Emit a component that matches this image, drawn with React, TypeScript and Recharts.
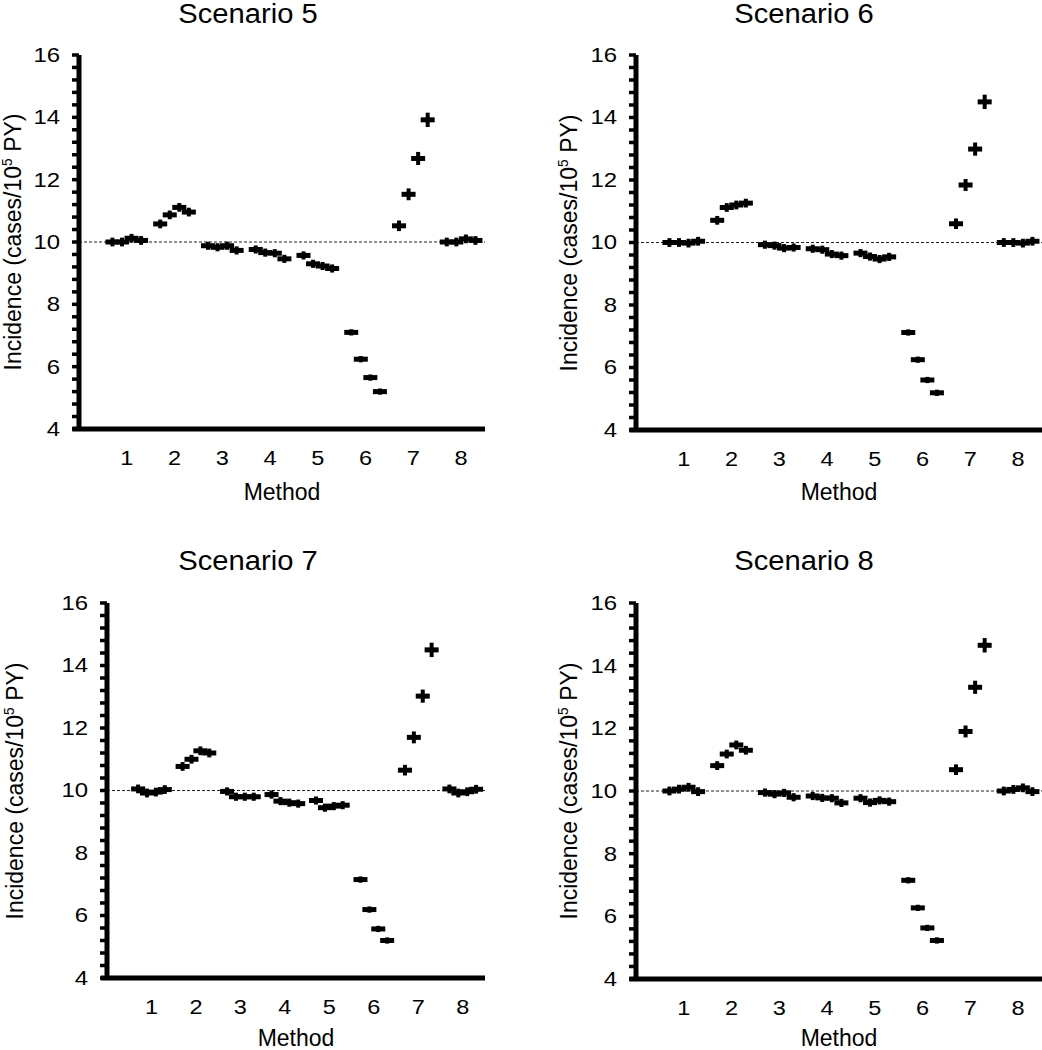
import React from "react";
import {
  ScatterChart,
  Scatter,
  XAxis,
  YAxis,
  ErrorBar,
  ReferenceLine,
} from "recharts";

// four estimates per method
const methods = [1, 2, 3, 4, 5, 6, 7, 8];
const pointOffsets = [-0.3, -0.1, 0.1, 0.3];

const scenario5 = [
  [10.0, 10.0, 10.12, 10.05],
  [10.58, 10.87, 11.11, 10.96],
  [9.88, 9.83, 9.88, 9.73],
  [9.76, 9.66, 9.64, 9.46],
  [9.57, 9.3, 9.23, 9.15],
  [7.1, 6.24, 5.65, 5.2],
  [10.52, 11.53, 12.68, 13.92],
  [10.0, 10.0, 10.1, 10.05],
];
const scenario6 = [
  [10.0, 10.0, 9.98, 10.04],
  [10.71, 11.12, 11.2, 11.26],
  [9.93, 9.9, 9.82, 9.84],
  [9.8, 9.77, 9.63, 9.58],
  [9.66, 9.55, 9.47, 9.54],
  [7.12, 6.25, 5.6, 5.19],
  [10.6, 11.84, 12.99, 14.5],
  [10.0, 10.0, 9.98, 10.04],
];
const scenario7 = [
  [10.05, 9.92, 9.95, 10.03],
  [10.77, 11.0, 11.27, 11.2],
  [9.97, 9.8, 9.8, 9.8],
  [9.87, 9.66, 9.61, 9.58],
  [9.68, 9.45, 9.5, 9.53],
  [7.15, 6.19, 5.57, 5.2],
  [10.65, 11.7, 13.02, 14.5],
  [10.05, 9.92, 9.96, 10.04],
];
const scenario8 = [
  [10.0, 10.06, 10.12, 9.98],
  [10.81, 11.18, 11.47, 11.3],
  [9.95, 9.9, 9.94, 9.8],
  [9.84, 9.78, 9.77, 9.62],
  [9.77, 9.63, 9.7, 9.66],
  [7.15, 6.27, 5.63, 5.23],
  [10.68, 11.9, 13.31, 14.65],
  [10.0, 10.05, 10.1, 9.98],
];

// half-width of the vertical interval around each estimate
const ciHalfWidth = [
  [0.14, 0.14, 0.14, 0.14],
  [0.14, 0.14, 0.14, 0.14],
  [0.13, 0.13, 0.13, 0.13],
  [0.13, 0.13, 0.13, 0.13],
  [0.13, 0.13, 0.13, 0.13],
  [0.1, 0.1, 0.1, 0.1],
  [0.17, 0.19, 0.21, 0.23],
  [0.14, 0.14, 0.14, 0.14],
];

const yMajorTicks = [4, 6, 8, 10, 12, 14, 16];
const yMinorStep = 0.4;
const yTicks = Array.from({ length: 31 }, (_, i) =>
  Math.round((4 + i * yMinorStep) * 10) / 10,
);
const referenceValue = 10;

const FONT = '"Liberation Sans", Arial, sans-serif';

function toPoints(values: number[][]) {
  return values.flatMap((row, m) =>
    row.map((v, k) => ({
      x: methods[m] + pointOffsets[k],
      y: v,
      err: ciHalfWidth[m][k],
    })),
  );
}

const CrossMark = (props: any) => {
  const { cx, cy } = props;
  if (cx == null || cy == null) return null;
  return <rect x={cx - 7} y={cy - 2.5} width={14} height={5} fill="#000" />;
};

const YTick = (props: any) => {
  const { x, y, payload } = props;
  const v = payload.value;
  if (!yMajorTicks.includes(v)) return null;
  return (
    <text
      transform={`translate(${x},${y}) scale(1.14,1)`}
      textAnchor="end"
      dominantBaseline="central"
      fontSize={21}
      fontFamily={FONT}
      fill="#000"
    >
      {v}
    </text>
  );
};

const XTick = (props: any) => {
  const { x, y, payload } = props;
  return (
    <text
      transform={`translate(${x},${y}) scale(1.12,1)`}
      dy="0.71em"
      textAnchor="middle"
      fontSize={21}
      fontFamily={FONT}
      fill="#000"
    >
      {payload.value}
    </text>
  );
};

interface PanelProps {
  title: string;
  values: number[][];
  left: number;
  axisX: number;
  plotRight: number;
  plotTop: number;
  plotBottom: number;
  titleX: number;
  titleTop: number;
  yLabelX: number;
  methodTop: number;
}

function Panel({
  title,
  values,
  left,
  axisX,
  plotRight,
  plotTop,
  plotBottom,
  titleX,
  titleTop,
  yLabelX,
  methodTop,
}: PanelProps) {
  const chartTop = plotTop - 15;
  const width = plotRight - left + 4;
  const xAxisHeight = 45;
  const height = plotBottom - chartTop + xAxisHeight + 5;
  const plotMid = (plotTop + plotBottom) / 2;

  return (
    <>
      <div
        style={{
          position: "absolute",
          left: titleX,
          top: titleTop,
          transform: "translateX(-50%) scaleX(1.08)",
          fontFamily: FONT,
          fontSize: 27,
          lineHeight: 1,
          whiteSpace: "nowrap",
        }}
      >
        {title}
      </div>
      <div
        style={{
          position: "absolute",
          left: yLabelX,
          top: plotMid,
          transform: "translate(-50%, -50%) rotate(-90deg)",
          fontFamily: FONT,
          fontSize: 23,
          lineHeight: 1,
          whiteSpace: "nowrap",
        }}
      >
        Incidence (cases/10
        <sup style={{ fontSize: "0.6em", verticalAlign: "0.7em" }}>5</sup> PY)
      </div>
      <div
        style={{
          position: "absolute",
          left: (axisX + plotRight) / 2,
          top: methodTop,
          transform: "translateX(-50%)",
          fontFamily: FONT,
          fontSize: 23,
          lineHeight: 1,
          whiteSpace: "nowrap",
        }}
      >
        Method
      </div>
      <div style={{ position: "absolute", left, top: chartTop }}>
        <ScatterChart
          width={width}
          height={height}
          margin={{ top: plotTop - chartTop, right: 4, bottom: 5, left: 0 }}
        >
          <XAxis
            type="number"
            dataKey="x"
            domain={[0, 8.5]}
            ticks={methods}
            interval={0}
            tick={<XTick />}
            tickLine={false}
            tickSize={0}
            tickMargin={21}
            height={xAxisHeight}
            axisLine={{ stroke: "#000", strokeWidth: 5 }}
            allowDataOverflow
          />
          <YAxis
            type="number"
            dataKey="y"
            domain={[4, 16]}
            ticks={yTicks}
            interval={0}
            width={axisX - left}
            tick={<YTick />}
            tickSize={7}
            tickMargin={12}
            tickLine={{ stroke: "#000", strokeWidth: 3.5 }}
            axisLine={{ stroke: "#000", strokeWidth: 5 }}
            allowDataOverflow
          />
          <ReferenceLine
            segment={[
              { x: -0.14, y: 4 },
              { x: 0, y: 4 },
            ]}
            stroke="#000"
            strokeWidth={5}
            ifOverflow="visible"
          />
          <ReferenceLine
            y={referenceValue}
            stroke="#222"
            strokeWidth={1}
            strokeDasharray="3 2"
          />
          <Scatter
            data={toPoints(values)}
            shape={<CrossMark />}
            isAnimationActive={false}
          >
            <ErrorBar
              dataKey="err"
              direction="y"
              width={0}
              strokeWidth={4}
              stroke="#000"
            />
          </Scatter>
        </ScatterChart>
      </div>
    </>
  );
}

export default function App() {
  return (
    <div
      style={{
        position: "absolute",
        left: 0,
        top: 0,
        width: 1042,
        height: 1050,
        background: "#fff",
        overflow: "hidden",
      }}
    >
      <Panel
        title="Scenario 5"
        values={scenario5}
        left={0}
        axisX={79}
        plotRight={485}
        plotTop={55}
        plotBottom={429}
        titleX={248}
        titleTop={1}
        yLabelX={13}
        methodTop={481}
      />
      <Panel
        title="Scenario 6"
        values={scenario6}
        left={521}
        axisX={636}
        plotRight={1042}
        plotTop={55}
        plotBottom={430}
        titleX={804}
        titleTop={1}
        yLabelX={569}
        methodTop={481}
      />
      <Panel
        title="Scenario 7"
        values={scenario7}
        left={0}
        axisX={107}
        plotRight={485}
        plotTop={603}
        plotBottom={978}
        titleX={248}
        titleTop={548}
        yLabelX={15}
        methodTop={1027}
      />
      <Panel
        title="Scenario 8"
        values={scenario8}
        left={521}
        axisX={636}
        plotRight={1042}
        plotTop={603}
        plotBottom={979}
        titleX={804}
        titleTop={548}
        yLabelX={569}
        methodTop={1027}
      />
    </div>
  );
}
